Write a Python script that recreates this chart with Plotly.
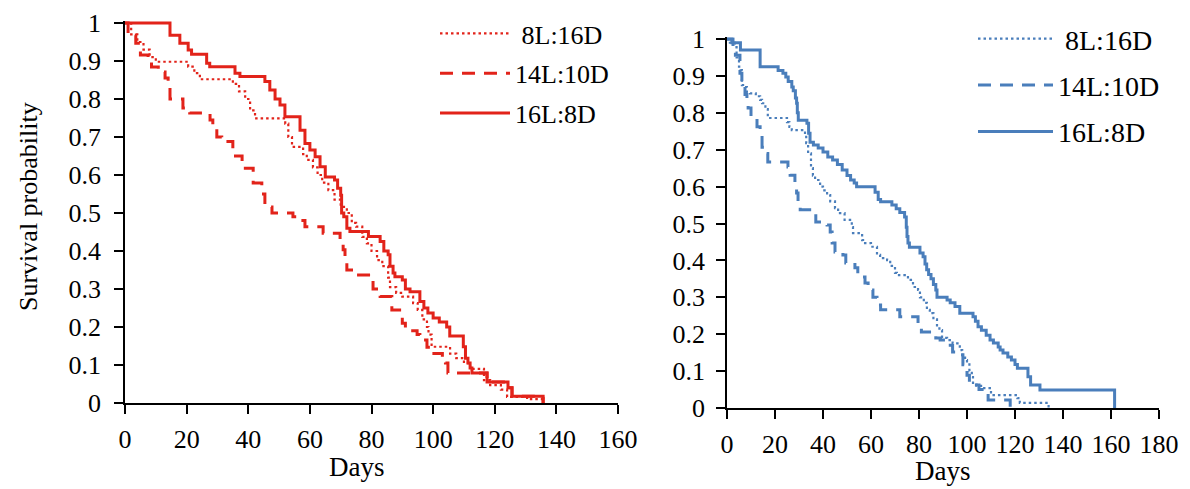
import plotly.graph_objects as go

# ---------------- data ----------------
series_names = ["8L:16D", "14L:10D", "16L:8D"]

# Left panel (red)
left_8L_days = [0, 2, 4, 6, 8, 10, 20.5, 22.5, 24.3, 35, 37, 39, 40.6, 42.2, 52, 53, 54.2, 57.8, 59, 61, 62.5,
                64, 66, 68, 70, 72, 73.6, 75, 77, 78.5, 80, 81.8, 83.5, 85.4, 86, 88, 90, 93.5, 95, 96.5, 98,
                98.5, 99.5, 105.5, 107.5, 110, 112, 116.5, 118.5, 122, 124, 130.5, 135.7]
left_8L_surv = [1.0, 0.97, 0.95, 0.93, 0.91, 0.898, 0.885, 0.868, 0.852, 0.84, 0.82, 0.80, 0.77, 0.749, 0.735,
                0.70, 0.674, 0.655, 0.64, 0.62, 0.60, 0.58, 0.56, 0.535, 0.516, 0.50, 0.474, 0.464, 0.437,
                0.42, 0.40, 0.376, 0.36, 0.33, 0.305, 0.29, 0.28, 0.263, 0.245, 0.22, 0.20, 0.18, 0.148,
                0.13, 0.118, 0.105, 0.09, 0.06, 0.047, 0.035, 0.016, 0.01, 0.0]

left_14L_days = [0, 1, 3.5, 5, 7.5, 8.6, 10.8, 13, 14, 14.6, 18.8, 21, 27.6, 28.5, 29.8, 31.4, 35, 38, 41.6,
                 44.4, 45.4, 47.7, 54.5, 56, 58.4, 64.3, 69.8, 70.8, 71.4, 72, 74.6, 80, 80.5, 82.8, 86.6,
                 90, 91, 94.8, 95.7, 98, 99.6, 103, 104, 104.8, 117.5, 124.3, 125.6, 135.7]
left_14L_surv = [1.0, 0.968, 0.947, 0.916, 0.90, 0.884, 0.871, 0.855, 0.832, 0.80, 0.776, 0.763, 0.745, 0.724,
                 0.70, 0.688, 0.65, 0.618, 0.579, 0.55, 0.516, 0.50, 0.49, 0.48, 0.464, 0.447, 0.429, 0.403,
                 0.38, 0.35, 0.337, 0.328, 0.30, 0.28, 0.245, 0.21, 0.19, 0.18, 0.166, 0.147, 0.13, 0.12,
                 0.105, 0.079, 0.055, 0.04, 0.018, 0.0]

left_16L_days = [0, 14.6, 17.8, 20.5, 21.6, 26.5, 27.5, 35.7, 37.3, 45.4, 47, 48.7, 50.3, 51.9, 56.8, 58.4, 60,
                 61.7, 63.3, 65, 68, 69, 70, 70.3, 71, 72, 73, 79, 82.8, 84, 85.4, 86, 87, 87.6, 90, 91, 92.5,
                 95.7, 97, 98.3, 100, 102, 104.4, 105.4, 109.8, 110.5, 111.3, 112, 112.6, 117.5, 124.3,
                 125.6, 135.7]
left_16L_surv = [1.0, 0.968, 0.947, 0.929, 0.918, 0.894, 0.885, 0.868, 0.859, 0.846, 0.824, 0.80, 0.784, 0.753,
                 0.718, 0.683, 0.666, 0.648, 0.622, 0.595, 0.587, 0.565, 0.547, 0.50, 0.49, 0.46, 0.451, 0.438,
                 0.425, 0.40, 0.39, 0.36, 0.342, 0.332, 0.324, 0.30, 0.293, 0.267, 0.25, 0.237, 0.224, 0.213,
                 0.20, 0.176, 0.148, 0.118, 0.105, 0.092, 0.079, 0.055, 0.04, 0.018, 0.0]

# Right panel (blue)
right_8L_days = [0, 1.2, 3.3, 4, 5, 5.6, 6.2, 6.7, 8.3, 9.6, 12, 13.8, 14.6, 16, 17, 25, 26, 27, 32.5, 33, 33.8,
                 35, 35.8, 36.7, 38.8, 40, 41.7, 43, 45, 46.3, 49, 52, 52.5, 56.3, 56.7, 60, 62.5, 63.8, 66.7,
                 68, 70, 70.8, 75.4, 77.5, 79.6, 80.4, 82, 83.3, 84.5, 86, 87.5, 88.5, 89.6, 91.7, 94, 97, 98,
                 99.2, 100, 101, 102, 102.5, 104, 106.7, 110, 121, 122, 134]
right_8L_surv = [1.0, 0.99, 0.978, 0.95, 0.925, 0.916, 0.875, 0.87, 0.856, 0.853, 0.845, 0.835, 0.826, 0.81,
                 0.786, 0.775, 0.762, 0.753, 0.74, 0.718, 0.69, 0.65, 0.63, 0.618, 0.60, 0.59, 0.577, 0.56,
                 0.542, 0.528, 0.51, 0.49, 0.474, 0.455, 0.447, 0.437, 0.415, 0.406, 0.401, 0.385, 0.366,
                 0.36, 0.347, 0.328, 0.32, 0.30, 0.285, 0.266, 0.257, 0.24, 0.22, 0.211, 0.19, 0.184, 0.175,
                 0.157, 0.14, 0.13, 0.122, 0.10, 0.084, 0.068, 0.06, 0.054, 0.035, 0.027, 0.014, 0.0]

right_14L_days = [0, 2.5, 3.5, 5.4, 6.2, 6.7, 7.5, 8.3, 8.8, 10, 12.5, 13.8, 14.6, 15.8, 17, 25.4, 26.3, 28.3,
                  29, 29.6, 30.5, 35.8, 37, 41.7, 43, 43.8, 45, 48.3, 49.5, 53.3, 54.5, 57.5, 58.8, 60.8, 62.5,
                  64, 72, 79.6, 81, 87, 88.8, 92, 94, 97, 98.3, 100, 101, 103.3, 105, 106.3, 108.8, 118]
right_14L_surv = [1.0, 0.975, 0.956, 0.907, 0.883, 0.87, 0.85, 0.835, 0.813, 0.79, 0.762, 0.745, 0.707, 0.69,
                  0.667, 0.653, 0.631, 0.61, 0.583, 0.55, 0.537, 0.528, 0.504, 0.496, 0.477, 0.447, 0.423,
                  0.415, 0.393, 0.38, 0.355, 0.339, 0.32, 0.30, 0.279, 0.266, 0.247, 0.225, 0.206, 0.19,
                  0.184, 0.17, 0.152, 0.144, 0.117, 0.089, 0.07, 0.062, 0.05, 0.043, 0.022, 0.0]

right_16L_days = [0, 2, 5.6, 13.8, 21.3, 23.3, 24.5, 25.5, 27, 27.6, 28.5, 29, 29.3, 29.7, 33.3, 34, 34.6, 36,
                  38, 40, 42, 44, 46, 48, 50, 51.5, 53, 54, 61.7, 63, 64, 68.7, 70.5, 72, 74, 74.7, 75, 75.4,
                  76, 80.4, 81.7, 82.5, 83.2, 84, 85, 86, 87, 87.5, 91.7, 93, 95, 97, 102.5, 103.5, 104.6, 106,
                  108, 109.6, 111, 113, 113.8, 115, 117, 118.5, 120, 121, 125.4, 126.5, 130.4, 161.5]
right_16L_surv = [1.0, 0.99, 0.97, 0.925, 0.915, 0.907, 0.897, 0.885, 0.87, 0.86, 0.84, 0.826, 0.80, 0.78,
                  0.772, 0.745, 0.72, 0.713, 0.705, 0.694, 0.68, 0.672, 0.66, 0.645, 0.63, 0.618, 0.61, 0.60,
                  0.585, 0.565, 0.559, 0.55, 0.54, 0.53, 0.518, 0.49, 0.465, 0.447, 0.436, 0.42, 0.41, 0.39,
                  0.375, 0.362, 0.35, 0.335, 0.32, 0.30, 0.293, 0.285, 0.275, 0.257, 0.247, 0.235, 0.22, 0.211,
                  0.197, 0.184, 0.176, 0.165, 0.157, 0.149, 0.138, 0.13, 0.118, 0.108, 0.085, 0.062, 0.049, 0.0]

left_xticks = [0, 20, 40, 60, 80, 100, 120, 140, 160]
right_xticks = [0, 20, 40, 60, 80, 100, 120, 140, 160, 180]
y_ticks = [0, 0.1, 0.2, 0.3, 0.4, 0.5, 0.6, 0.7, 0.8, 0.9, 1]

# ---------------- styling ----------------
RED = "#E2231A"
BLUE = "#4A7EBB"
FONT = "Liberation Serif"
W, H = 1190, 489

fig = go.Figure()

styles = [
    dict(dash="2.5px,3px", width=2.2),
    dict(dash="13px,9px", width=3),
    dict(dash="solid", width=3),
]

left_data = [(left_8L_days, left_8L_surv), (left_14L_days, left_14L_surv), (left_16L_days, left_16L_surv)]
right_data = [(right_8L_days, right_8L_surv), (right_14L_days, right_14L_surv), (right_16L_days, right_16L_surv)]

for i, (name, (d, s)) in enumerate(zip(series_names, left_data)):
    fig.add_trace(go.Scatter(
        x=d, y=s, mode="lines", line_shape="hv", name=(" " + name if i == 0 else name),
        line=dict(color=RED, **styles[i]), xaxis="x", yaxis="y", legend="legend",
        legendgroup="L" + str(i), hoverinfo="skip"))

for i, (name, (d, s)) in enumerate(zip(series_names, right_data)):
    fig.add_trace(go.Scatter(
        x=d, y=s, mode="lines", line_shape="hv", name=(" " + name if i == 0 else name),
        line=dict(color=BLUE, **styles[i]), xaxis="x2", yaxis="y2", legend="legend2",
        legendgroup="R" + str(i), hoverinfo="skip"))

axis_common = dict(showline=True, linecolor="black", linewidth=1.5, ticks="outside", ticklen=9,
                   tickwidth=1.5, tickcolor="black", showgrid=False, zeroline=False, automargin=False,
                   tickfont=dict(family=FONT, size=26, color="black"), tickangle=0)

fig.update_layout(
    template="none",
    width=W, height=H,
    margin=dict(l=0, r=0, t=0, b=0, pad=0, autoexpand=False),
    paper_bgcolor="white", plot_bgcolor="white",
    showlegend=True,
    xaxis=dict(domain=[125 / W, 618 / W], range=[0, 160], tickmode="array", tickvals=left_xticks,
               anchor="y", ticklabelstandoff=3, **axis_common),
    yaxis=dict(domain=[1 - 403 / H, 1 - 21.1 / H], range=[0, 1.005], tickmode="array", tickvals=y_ticks,
               anchor="x", ticklabelstandoff=8, **axis_common),
    xaxis2=dict(domain=[727 / W, 1159 / W], range=[0, 180], tickmode="array", tickvals=right_xticks,
                anchor="y2", ticklabelstandoff=3, **axis_common),
    yaxis2=dict(domain=[1 - 408 / H, 1 - 37.2 / H], range=[0, 1.005], tickmode="array", tickvals=y_ticks,
                anchor="x2", ticklabelstandoff=6, **axis_common),
    legend=dict(x=435 / W, y=1 - 10 / H, xanchor="left", yanchor="top", bgcolor="rgba(0,0,0,0)",
                font=dict(family=FONT, size=26, color="black"), itemwidth=70, tracegroupgap=3,
                traceorder="grouped", borderwidth=0),
    legend2=dict(x=973 / W, y=1 - 14 / H, xanchor="left", yanchor="top", bgcolor="rgba(0,0,0,0)",
                 font=dict(family=FONT, size=28, color="black"), itemwidth=75, tracegroupgap=7,
                 traceorder="grouped", borderwidth=0),
    annotations=[
        dict(text="Days", x=357 / W, y=1 - 467 / H, xref="paper", yref="paper", showarrow=False,
             xanchor="center", yanchor="middle", font=dict(family=FONT, size=27, color="black")),
        dict(text="Days", x=943 / W, y=1 - 471 / H, xref="paper", yref="paper", showarrow=False,
             xanchor="center", yanchor="middle", font=dict(family=FONT, size=27, color="black")),
        dict(text="Survival probability", x=28 / W, y=1 - 207 / H, xref="paper", yref="paper",
             showarrow=False, textangle=-90, xanchor="center", yanchor="middle",
             font=dict(family=FONT, size=26, color="black")),
    ],
)

fig.write_html("out.html")
